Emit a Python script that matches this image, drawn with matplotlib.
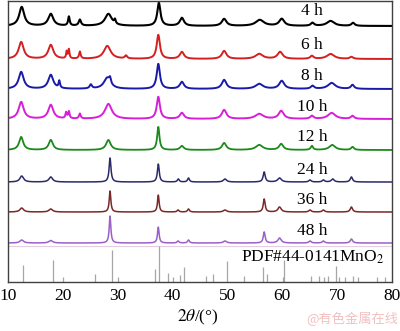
import numpy as np
import matplotlib
matplotlib.use("Agg")
import matplotlib.pyplot as plt

plt.rcParams["font.family"] = ["Liberation Serif", "DejaVu Serif"]
plt.rcParams["mathtext.fontset"] = "stix"

# XRD patterns of the samples: peak centres (2theta), heights and widths
times = ["4 h", "6 h", "8 h", "10 h", "12 h", "24 h", "36 h", "48 h"]
colors = ["#000000", "#d42020", "#1a1aa8", "#d81ed8", "#1a8a1a", "#2a2a6a", "#7a2828", "#9a60c8"]
offsets = [256, 223, 193, 163, 132, 100, 70, 39]
label_y = [271, 237, 206, 175, 145, 112, 82, 51]

pos_4h = [12.5, 17.8, 21.1, 23.1, 28.3, 29.5, 37.5, 41.7, 49.4, 55.9, 59.9, 65.5, 68.8, 72.9]
hgt_4h = [19, 12, 9, 6, 12, 4, 23, 8, 7, 6, 7, 3, 5, 3]
wid_4h = [1.1, 1.1, 0.35, 0.5, 1.5, 0.3, 0.7, 0.9, 1.0, 1.8, 1.1, 0.7, 1.6, 0.7]

pos_6h = [12.4, 17.8, 20.7, 21.1, 23.1, 28.1, 31.5, 37.4, 41.7, 49.4, 55.8, 59.6, 65.4, 68.8, 72.6]
hgt_6h = [17, 14, 7, 9, 7, 13, 3, 24, 7, 8, 5, 7, 3, 5, 2]
wid_6h = [1.1, 1.1, 0.25, 0.25, 0.35, 1.5, 0.5, 0.7, 0.9, 1.0, 1.6, 1.1, 0.7, 1.6, 0.7]

pos_8h = [12.4, 17.8, 19.35, 25.1, 28.1, 28.6, 37.4, 41.7, 49.4, 55.8, 59.9, 65.5, 69.0, 72.8]
hgt_8h = [17, 14, 7, 4, 11, 5, 25, 7, 9, 5, 8, 3, 6, 4]
wid_8h = [1.1, 1.1, 0.3, 0.5, 1.5, 0.35, 0.7, 0.9, 1.0, 1.6, 1.1, 0.7, 1.6, 0.7]

pos_10h = [12.4, 17.8, 20.6, 21.1, 23.1, 28.3, 37.4, 41.7, 49.4, 55.8, 59.8, 65.4, 69.0, 72.8]
hgt_10h = [17, 14, 6, 7, 5, 15, 22, 6, 9, 5, 8, 3, 6, 3]
wid_10h = [1.1, 1.1, 0.3, 0.3, 0.35, 1.5, 0.7, 0.9, 1.0, 1.7, 1.1, 0.7, 1.6, 0.7]

pos_12h = [12.4, 17.8, 28.3, 37.4, 41.7, 49.4, 55.8, 59.8, 65.4, 69.1, 72.8]
hgt_12h = [13, 10, 10, 23, 4, 7, 5, 6, 4, 5, 3]
wid_12h = [0.9, 0.9, 1.0, 0.5, 0.8, 0.9, 1.5, 0.9, 0.5, 1.3, 0.6]

pos_24h = [12.5, 17.8, 28.6, 37.4, 41.05, 42.9, 49.55, 56.7, 59.5, 65.05, 67.5, 69.2, 72.6]
hgt_24h = [6, 5, 24, 18, 3, 4, 3, 10, 4, 2, 2, 3, 5]
wid_24h = [0.8, 0.8, 0.4, 0.4, 0.4, 0.4, 0.7, 0.45, 0.8, 0.5, 0.5, 0.6, 0.5]

pos_36h = [12.5, 17.8, 28.6, 37.4, 41.0, 42.9, 49.55, 56.7, 59.5, 65.05, 67.5, 72.6]
hgt_36h = [4, 3, 21, 17, 2, 3, 2, 13, 5, 2, 2, 5]
wid_36h = [0.8, 0.8, 0.35, 0.35, 0.4, 0.4, 0.7, 0.4, 0.7, 0.5, 0.5, 0.5]

pos_48h = [12.5, 17.8, 28.6, 37.4, 41.0, 42.9, 49.55, 56.7, 59.5, 65.05, 67.5, 72.6]
hgt_48h = [3, 2.5, 27, 16, 2, 3, 2, 11, 5, 2, 2, 4]
wid_48h = [0.8, 0.8, 0.35, 0.35, 0.4, 0.4, 0.7, 0.4, 0.7, 0.5, 0.5, 0.5]

peaks = [
    (pos_4h, hgt_4h, wid_4h),
    (pos_6h, hgt_6h, wid_6h),
    (pos_8h, hgt_8h, wid_8h),
    (pos_10h, hgt_10h, wid_10h),
    (pos_12h, hgt_12h, wid_12h),
    (pos_24h, hgt_24h, wid_24h),
    (pos_36h, hgt_36h, wid_36h),
    (pos_48h, hgt_48h, wid_48h),
]

# standard card PDF#44-0141 (alpha-MnO2): 2theta and relative intensity
pdf_pos = [12.73, 18.14, 19.97, 25.86, 28.9, 30.0, 36.8, 37.58, 39.1, 40.1, 41.35, 42.0,
           46.1, 47.4, 50.0, 53.0, 56.5, 57.15, 60.07, 60.4, 65.2, 66.7, 67.6, 68.4,
           69.85, 70.4, 71.5, 72.8, 73.85, 77.3, 78.8]
pdf_int = [47, 61, 14, 22, 89, 14, 36, 100, 25, 14, 19, 42,
           17, 22, 58, 17, 42, 22, 14, 61, 17, 17, 14, 17,
           44, 14, 14, 17, 14, 14, 14]


def profile(x, pos, hgt, wid):
    y = np.zeros_like(x)
    for c, h, w in zip(pos, hgt, wid):
        y += h / (1 + ((x - c) / (w / 2)) ** 2)
    return y


fig = plt.figure(figsize=(4.0, 3.31), dpi=100)
ax = fig.add_axes([0.02, 0.148, 0.96, 0.849])

x = np.linspace(10, 80, 2000)
line_w = [1.5, 1.4, 1.4, 1.4, 1.3, 1.1, 1.1, 1.1]
for (pos, hgt, wid), off, col, lw, name, ly in zip(peaks, offsets, colors, line_w, times, label_y):
    ax.plot(x, off + profile(x, pos, hgt, wid), color=col, lw=lw)
    ax.text(65.4, ly, name, ha="center", va="center", fontsize=12.5)

ax.axhline(36, color="#e2d0e2", lw=0.8)

ax.vlines(pdf_pos, 0, np.array(pdf_int) * 0.36, color="#a6a6a6", lw=0.9)
ax.text(65.6, 25, "PDF#44-0141MnO$_2$", ha="center", va="center", fontsize=12.5)

ax.set_xlim(10, 80)
ax.set_ylim(0, 281)
ax.set_yticks([])
ax.set_xticks(range(10, 81, 10))
ax.tick_params(axis="x", length=0, labelsize=12.5, pad=4)
for s in ax.spines.values():
    s.set_color("#404040")
    s.set_linewidth(1.0)

fig.text(0.495, 0.04, r"$\mathit{2\theta}$/(°)", ha="center", va="center", fontsize=12.5)
fig.text(0.88, 0.035, "@有色金属在线", ha="center", va="center", fontsize=9.5,
         color="#f2c0c0", family=["Noto Sans CJK SC", "DejaVu Sans"])

fig.savefig("out.png", dpi=100)
